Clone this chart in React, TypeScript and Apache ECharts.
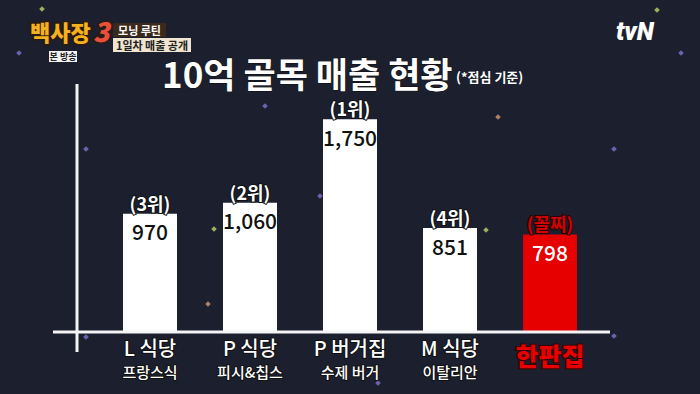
import React, { useEffect, useRef } from "react";
import * as echarts from "echarts";

const categories = ["L 식당", "P 식당", "P 버거집", "M 식당", "한판집"];
const subtitles = ["프랑스식", "피시&칩스", "수제 버거", "이탈리안", ""];
const sales = [970, 1060, 1750, 851, 798];
const ranks = ["(3위)", "(2위)", "(1위)", "(4위)", "(꼴찌)"];
const highlightIndex = 4;

const FONT = "'Noto Sans CJK KR', 'Noto Sans', sans-serif";
const BG = "#1c1f2d";
const RED = "#e60000";

const sparkles: [number, number, string][] = [
  [42, 9, "#b8c860"], [19, 53, "#7c6cc8"], [657, 10, "#b8c860"], [681, 53, "#7c6cc8"],
  [265, 106, "#7c6cc8"], [432, 72, "#7c6cc8"], [498, 117, "#c89070"], [614, 149, "#7c6cc8"],
  [86, 149, "#7c6cc8"], [320, 196, "#7c6cc8"], [214, 229, "#b8c860"], [486, 230, "#b8c860"],
  [208, 304, "#c89070"], [86, 337, "#7c6cc8"], [378, 383, "#7c6cc8"], [614, 336, "#7c6cc8"],
];

export default function App() {
  const ref = useRef<HTMLDivElement>(null);
  useEffect(() => {
    if (!ref.current) return;
    const chart = echarts.init(ref.current, null, { renderer: "svg" });
    const graphic: any[] = [];
    sparkles.forEach(([x, y, c]) => {
      graphic.push({
        type: "rect", x, y, rotation: Math.PI / 4, originX: 0, originY: 0,
        shape: { x: -2, y: -2, width: 4, height: 4 },
        style: { fill: c, opacity: 0.85 }, silent: true,
      });
    });
    graphic.push(
      { type: "line", shape: { x1: 77, y1: 84, x2: 77, y2: 352 }, style: { stroke: "#f4f4f4", lineWidth: 3 }, z: 10 },
      { type: "line", shape: { x1: 53, y1: 332, x2: 610, y2: 332 }, style: { stroke: "#f4f4f4", lineWidth: 3 }, z: 10 },
      { type: "text", x: 162, y: 72, style: { text: "10억 골목 매출 현황", fill: "#ffffff", font: `bold 35px ${FONT}`, stroke: "#111", lineWidth: 1, verticalAlign: "middle" } },
      { type: "text", x: 456, y: 70, style: { text: "(*점심 기준)", fill: "#ffffff", font: `bold 13px ${FONT}` } },
      { type: "text", x: 30, y: 20, style: { text: "백사장", fill: "#f5b21e", font: `900 22px ${FONT}`, stroke: "#2a1a10", lineWidth: 3 } },
      { type: "text", x: 93, y: 17, style: { text: "3", fill: "#e8503a", font: `italic 900 27px ${FONT}`, stroke: "#2a1a10", lineWidth: 3 } },
      { type: "rect", shape: { x: 113, y: 23, width: 53, height: 14 }, style: { fill: "#3b2a1c" } },
      { type: "text", x: 139.5, y: 30, style: { text: "모닝 루틴", fill: "#ffffff", font: `bold 11px ${FONT}`, align: "center", verticalAlign: "middle" } },
      { type: "rect", shape: { x: 113, y: 38, width: 78, height: 14 }, style: { fill: "#efe5d0" } },
      { type: "text", x: 152, y: 45, style: { text: "1일차 매출 공개", fill: "#222222", font: `bold 11px ${FONT}`, align: "center", verticalAlign: "middle" } },
      { type: "rect", shape: { x: 49, y: 51, width: 28, height: 11 }, style: { fill: "#f2f2f2" } },
      { type: "text", x: 63, y: 56.5, style: { text: "본 방송", fill: "#222222", font: `bold 9px ${FONT}`, align: "center", verticalAlign: "middle" } },
      { type: "text", x: 616, y: 19, style: { text: "tvN", fill: "#ffffff", font: `italic 900 25px Roboto, sans-serif` } },
    );

    chart.setOption({
      animation: false,
      backgroundColor: BG,
      grid: { left: 100, width: 500, top: 89, bottom: 63, containLabel: false },
      xAxis: {
        type: "category",
        data: categories,
        axisLine: { show: false },
        axisTick: { show: false },
        axisLabel: {
          margin: 3,
          interval: 0,
          formatter: (v: string, i: number) =>
            i === highlightIndex ? `{hl|${v}}` : `{name|${v}}\n{sub|${subtitles[i]}}`,
          rich: {
            name: { color: "#ffffff", fontSize: 20, fontFamily: FONT, fontWeight: 500, lineHeight: 26, textBorderColor: "#111", textBorderWidth: 2 },
            sub: { color: "#ffffff", fontSize: 15, fontFamily: FONT, fontWeight: 500, lineHeight: 22, textBorderColor: "#111", textBorderWidth: 2 },
            hl: { color: RED, fontSize: 25, fontFamily: FONT, fontWeight: 900, lineHeight: 42, textBorderColor: "#3a0000", textBorderWidth: 2 },
          },
        },
      },
      yAxis: { type: "value", min: 0, max: 2000, show: false, splitLine: { show: false } },
      series: [
        {
          type: "bar",
          barWidth: 54,
          data: sales.map((v, i) => ({
            value: v,
            itemStyle: { color: i === highlightIndex ? RED : "#ffffff" },
            label: { color: i === highlightIndex ? "#ffffff" : "#111111" },
          })),
          label: {
            show: true,
            position: "insideTop",
            distance: 7,
            fontSize: 21,
            fontFamily: FONT,
            fontWeight: 500,
            formatter: (p: any) => p.value.toLocaleString("en-US"),
          },
          z: 3,
        },
        {
          type: "bar",
          barWidth: 54,
          barGap: "-100%",
          silent: true,
          data: sales.map((v, i) => ({
            value: v,
            itemStyle: { color: "rgba(0,0,0,0)" },
            label: {
              color: i === highlightIndex ? "#d40000" : "#ffffff",
              textBorderColor: i === highlightIndex ? "#2a0000" : "#111111",
            },
          })),
          label: {
            show: true,
            position: "top",
            distance: 2,
            fontSize: 18,
            fontFamily: FONT,
            fontWeight: 700,
            textBorderWidth: 2,
            formatter: (p: any) => ranks[p.dataIndex],
          },
          z: 4,
        },
      ],
      graphic,
    });
    return () => chart.dispose();
  }, []);
  return (
    <div
      ref={ref}
      style={{ position: "absolute", left: 0, top: 0, width: 700, height: 394 }}
    />
  );
}
